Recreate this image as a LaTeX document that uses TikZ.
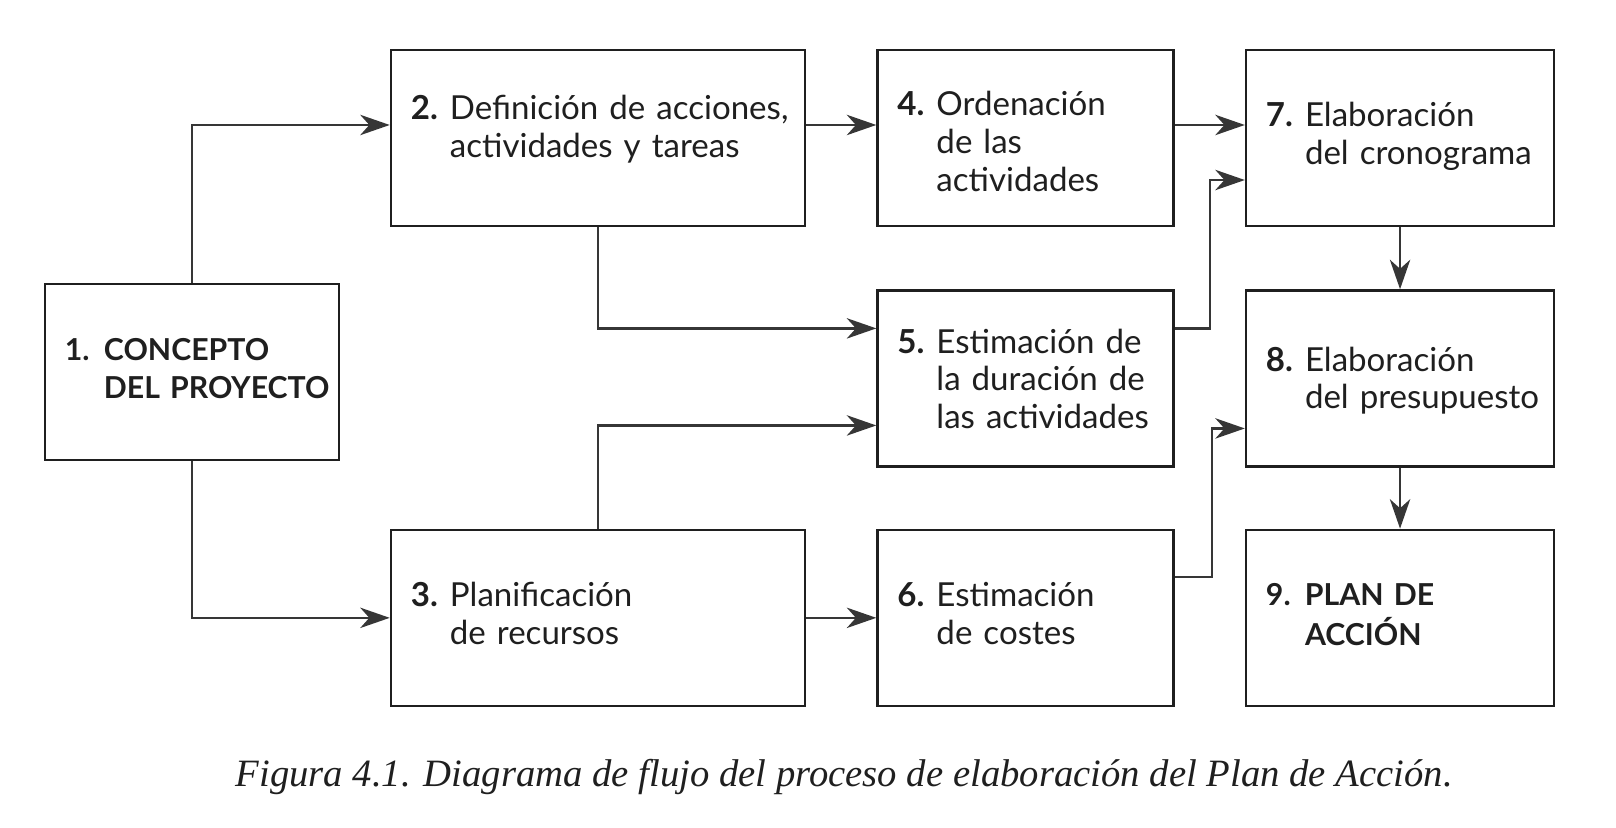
\documentclass[tikz,border=0pt]{standalone}
\usepackage{fontspec}
\usepackage{tikz}
\usetikzlibrary{arrows.meta, positioning}

\newfontfamily\stepfont{Lato}
\newfontfamily\capfont{Liberation Serif}
\definecolor{ink}{HTML}{1F1F1F}
\definecolor{arrowgray}{HTML}{363636}

\newlength{\stepnumw}
\setlength{\stepnumw}{0.39cm}
\newcommand{\steplabel}[3][0cm]{\raisebox{#1}[\height][\depth]{\makebox[\stepnumw][l]{\bfseries #2}\begin{tabular}[t]{@{}l@{}}#3\end{tabular}}}

\begin{document}
\begin{tikzpicture}[x=0.01cm, y=-0.01cm, node distance=0.7cm,
    stepbox/.style={draw=ink, line width=0.65pt, rectangle, text=ink, minimum height=1.76cm,
        inner xsep=0.2cm, text width=#1, align=left, font=\stepfont\fontsize{9.4}{10.7}\selectfont},
    stepbox/.default=2.56cm,
    bigstep/.style={font=\stepfont\bfseries\fontsize{8.6}{10.9}\selectfont},
    flow/.style={draw=arrowgray, line width=0.65pt, -{Stealth[length=8.4pt, width=5.8pt, inset=2.6pt]}}]
    \useasboundingbox (0,0) rectangle (1616,828);

    \node[stepbox=3.74cm] (s2) at (598,138) {\steplabel[0.07cm]{2.}{Definición de acciones,\\actividades y tareas}};
    \node[stepbox, right=of s2] (s4) {\steplabel[-0.08cm]{4.}{Ordenación\\de las\\actividades}};
    \node[stepbox=2.68cm, right=of s4] (s7) {\steplabel{7.}{Elaboración\\del cronograma}};
    \node[stepbox, below=0.62cm of s4] (s5) {\steplabel[-0.05cm]{5.}{Estimación de\\la duración de\\las actividades}};
    \node[stepbox, below=0.61cm of s5] (s6) {\steplabel{6.}{Estimación\\de costes}};
    \node[stepbox=3.74cm, left=of s6] (s3) {\steplabel{3.}{Planificación\\de recursos}};
    \node[stepbox=2.68cm, below=0.62cm of s7] (s8) {\steplabel[-0.04cm]{8.}{Elaboración\\del presupuesto}};
    \node[stepbox=2.68cm, bigstep, below=0.61cm of s8] (s9) {\steplabel{9.}{PLAN DE\\ACCIÓN}};
    \node[stepbox=2.54cm, bigstep] (s1) at (192,372) {\steplabel{1.}{CONCEPTO\\DEL PROYECTO}};

    \draw[flow] (s1.north) |- ([yshift=0.13cm]s2.west);
    \draw[flow] (s1.south) |- (s3.west);
    \draw[flow] ([yshift=0.13cm]s2.east) -- ([yshift=0.13cm]s2.east -| s4.west);
    \draw[flow] (s2.south) |- ([yshift=0.5cm]s5.west);
    \draw[flow] (s3.north) |- ([yshift=-0.47cm]s5.west);
    \draw[flow] (s3.east) -- (s6.west);
    \draw[flow] ([yshift=0.13cm]s4.east) -- ([yshift=0.13cm]s4.east -| s7.west);
    \draw[flow] ([yshift=0.5cm]s5.east) -- ++(35,0) |- ([yshift=-0.42cm]s7.west);
    \draw[flow] (s7.south) -- (s8.north);
    \draw[flow] ([yshift=0.41cm]s6.east) -- ++(37,0) |- ([yshift=-0.5cm]s8.west);
    \draw[flow] (s8.south) -- (s9.north);

    \node[anchor=base west, inner sep=0pt, text=ink, font=\capfont\itshape\fontsize{11}{13}\selectfont] (caption) at (235,786)
        {Figura 4.1. Diagrama de flujo del proceso de elaboración del Plan de Acción.};
\end{tikzpicture}
\end{document}
